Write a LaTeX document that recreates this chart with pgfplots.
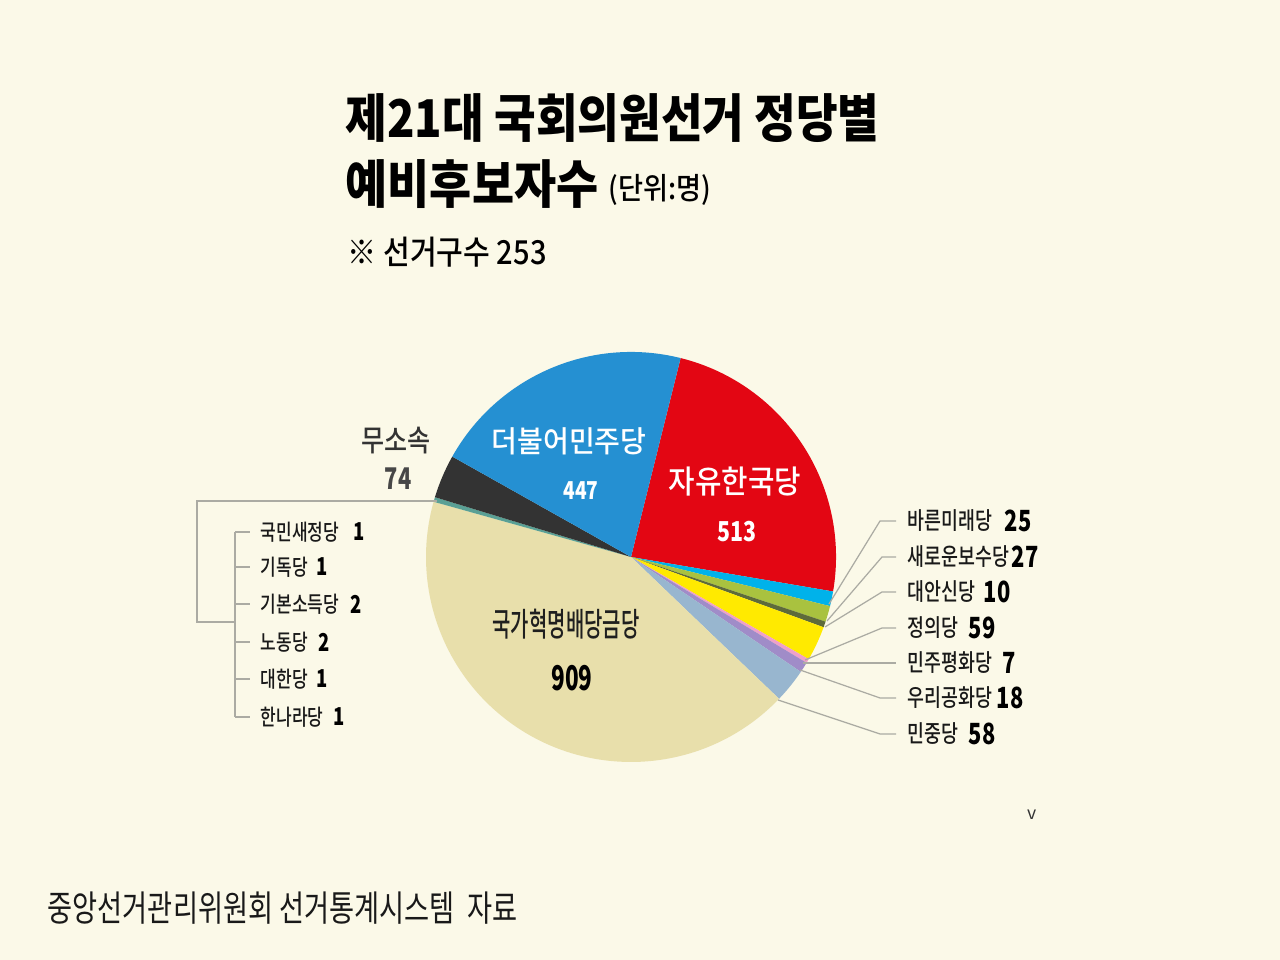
\documentclass[border=0pt]{standalone}
\usepackage{pgfplots}
\usepackage{pgfplotstable}
\pgfplotsset{compat=1.18}
\usepackage{fontspec}
\setmainfont{Noto Sans CJK KR}
\newfontfamily\krmed{Noto Sans CJK KR Medium}

\definecolor{bgcol}{HTML}{FBF9E8}
\definecolor{cRed}{HTML}{E30613}
\definecolor{cBlue}{HTML}{2590D2}
\definecolor{cCyan}{HTML}{00B2EA}
\definecolor{cOlive}{HTML}{A9C23F}
\definecolor{cDkOlive}{HTML}{5E6B3A}
\definecolor{cYellow}{HTML}{FFEA00}
\definecolor{cPink}{HTML}{EFA0C8}
\definecolor{cPurple}{HTML}{A08CC8}
\definecolor{cLtBlue}{HTML}{98B6CF}
\definecolor{cBeige}{HTML}{E8DFAB}
\definecolor{cTeal}{HTML}{5AA095}
\definecolor{cDark}{HTML}{333333}
\definecolor{leader}{HTML}{ABABA3}

\newcommand\fs[1]{\fontsize{#1}{#1}\selectfont}
\newcommand\sx[2]{\scalebox{#1}[1]{#2}}

% clockwise from the top, starting at 76 degrees
\pgfplotstableread{
value color
513 cRed
25  cCyan
27  cOlive
10  cDkOlive
59  cYellow
7   cPink
18  cPurple
58  cLtBlue
909 cBeige
8   cTeal
74  cDark
447 cBlue
}\piedata

\pgfplotstablegetrowsof{\piedata}
\pgfmathtruncatemacro\nrows{\pgfplotsretval-1}
\def\total{0}
\pgfplotsforeachungrouped \i in {0,...,\nrows}{%
  \pgfplotstablegetelem{\i}{value}\of\piedata
  \pgfmathsetmacro\total{\total+\pgfplotsretval}}
\def\startang{76}

\begin{document}
\begin{tikzpicture}
\begin{axis}[scale only axis, width=12.8cm, height=9.6cm,
  xmin=0, xmax=1280, ymin=0, ymax=960, y dir=reverse,
  hide axis, clip=false]
\fill[bgcol] (axis cs:0,0) rectangle (axis cs:1280,960);

% wedges
\def\acc{0}
\pgfplotsforeachungrouped \i in {0,...,\nrows}{%
  \pgfplotstablegetelem{\i}{value}\of\piedata \let\pval\pgfplotsretval
  \pgfplotstablegetelem{\i}{color}\of\piedata \let\pcol\pgfplotsretval
  \pgfmathsetmacro\angA{\startang-(\acc/\total)*360}
  \pgfmathsetmacro\acc{\acc+\pval}
  \pgfmathsetmacro\angB{\startang-(\acc/\total)*360}
  \edef\temp{\noexpand\fill[\pcol] (axis cs:631,557) -- ++(\angA:2.05cm)
    arc[start angle=\angA, end angle=\angB, radius=2.05cm] -- cycle;}
  \temp
}

% leader lines, right
\draw[leader, line width=0.35pt] (axis cs:829,604) -- (axis cs:880,521) -- (axis cs:896,521);
\draw[leader, line width=0.35pt] (axis cs:827,621) -- (axis cs:882,557) -- (axis cs:896,557);
\draw[leader, line width=0.35pt] (axis cs:825,627) -- (axis cs:882,592) -- (axis cs:896,592);
\draw[leader, line width=0.35pt] (axis cs:805,660) -- (axis cs:882,628) -- (axis cs:896,628);
\draw[leader, line width=0.35pt] (axis cs:803,663) -- (axis cs:896,663);
\draw[leader, line width=0.35pt] (axis cs:800,670) -- (axis cs:880,698) -- (axis cs:896,698);
\draw[leader, line width=0.35pt] (axis cs:778,700) -- (axis cs:880,734) -- (axis cs:896,734);

% bracket, left
\draw[leader, line width=0.35pt] (axis cs:437,501) -- (axis cs:197,501) -- (axis cs:197,622) -- (axis cs:235,622);
\draw[leader, line width=0.35pt] (axis cs:235,532) -- (axis cs:235,717);

% titles
\node[anchor=west, inner sep=0, font=\fs{14.8}\bfseries] at (axis cs:345,118) {\sx{0.87}{제21대 국회의원선거 정당별}};
\node[anchor=west, inner sep=0, font=\fs{14.8}\bfseries] at (axis cs:345,184) {\sx{0.88}{예비후보자수}};
\node[anchor=west, inner sep=0, font=\fs{8.6}\krmed] at (axis cs:608,190) {\sx{0.9}{(단위:명)}};
\node[anchor=west, inner sep=0, font=\fs{9.4}\krmed] at (axis cs:347,252) {\sx{0.88}{※ 선거구수 253}};

% labels on the pie
\node[inner sep=0, white, font=\fs{8.5}\krmed] at (axis cs:569,441) {\sx{0.94}{더불어민주당}};
\node[inner sep=0, white, font=\fs{7}\bfseries] at (axis cs:581,491) {\sx{0.78}{447}};
\node[inner sep=0, white, font=\fs{9.1}\krmed] at (axis cs:735,482) {\sx{0.9}{자유한국당}};
\node[inner sep=0, white, font=\fs{7.8}\bfseries] at (axis cs:737,532) {\sx{0.78}{513}};
\node[inner sep=0, black!88, font=\fs{9.3}\krmed] at (axis cs:566,624) {\sx{0.61}{국가혁명배당금당}};
\node[inner sep=0, black, font=\fs{9.7}\bfseries] at (axis cs:572,678) {\sx{0.66}{909}};
\node[inner sep=0, black!80, font=\fs{8.5}\krmed] at (axis cs:396,441) {\sx{0.84}{무소속}};
\node[inner sep=0, black!72, font=\fs{8.5}\bfseries] at (axis cs:398,479) {\sx{0.73}{74}};

\pgfplotsextra{
\foreach \yy in {532,567,604,642,679,717}
  \draw[leader, line width=0.35pt] (axis cs:235,\yy) -- (axis cs:250,\yy);
% right labels
\foreach \yy/\lab/\num/\nx in {521/바른미래당/25/1004, 557/새로운보수당/27/1011,
    592/대안신당/10/983, 628/정의당/59/968, 663/민주평화당/7/1002,
    698/우리공화당/18/996, 734/민중당/58/968}{
  \node[anchor=west, inner sep=0, black!90, font=\fs{6.8}\krmed] at (axis cs:907,\yy) {\sx{0.77}{\lab}};
  \node[anchor=west, inner sep=0, black, font=\fs{8.3}\bfseries] at (axis cs:\nx,\yy) {\sx{0.75}{\num}};
}
% left labels
\foreach \yy/\lab/\num/\nx in {532/국민새정당/1/353, 567/기독당/1/316,
    604/기본소득당/2/350, 642/노동당/2/318, 679/대한당/1/316, 717/한나라당/1/333}{
  \node[anchor=west, inner sep=0, black!90, font=\fs{6.3}\krmed] at (axis cs:260,\yy) {\sx{0.77}{\lab}};
  \node[anchor=west, inner sep=0, black, font=\fs{7}\bfseries] at (axis cs:\nx,\yy) {\sx{0.75}{\num}};
}
}

\node[inner sep=0, black!80, font=\fs{5}] at (axis cs:1032,815) {v};
\node[anchor=west, inner sep=0, black!90, font=\fs{10.2}] at (axis cs:47,908) {\sx{0.76}{중앙선거관리위원회 선거통계시스템\ \ 자료}};
\end{axis}
\end{tikzpicture}
\end{document}
